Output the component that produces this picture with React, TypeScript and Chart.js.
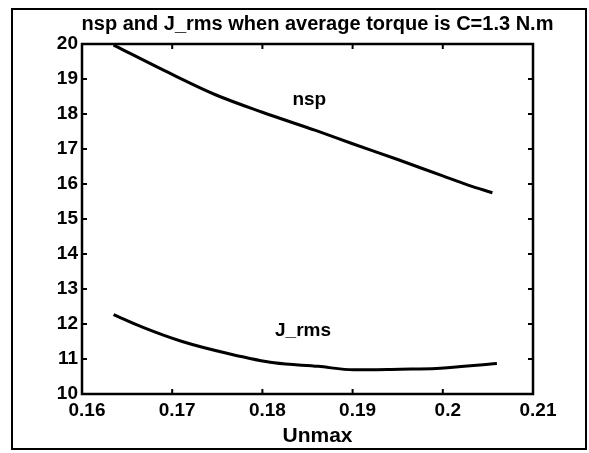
import React, { useEffect, useRef } from "react";
import { Chart, registerables } from "chart.js";

Chart.register(...registerables);

const titleText = "nsp and J_rms when average torque is C=1.3 N.m";
const xAxisTitle = "Unmax";
const xTicks = [0.16, 0.17, 0.18, 0.19, 0.2, 0.21];
const xTickLabels = ["0.16", "0.17", "0.18", "0.19", "0.2", "0.21"];
const yTicks = [10, 11, 12, 13, 14, 15, 16, 17, 18, 19, 20];

const nspX = [0.1635, 0.17, 0.1748, 0.18, 0.1859, 0.19, 0.195, 0.2, 0.2028, 0.2055];
const nspY = [19.97, 19.13, 18.55, 18.05, 17.53, 17.15, 16.7, 16.23, 15.97, 15.75];

const jrmsX = [0.1635, 0.1667, 0.1711, 0.1763, 0.1813, 0.1862, 0.1901, 0.1953, 0.1993, 0.206];
const jrmsY = [12.27, 11.91, 11.5, 11.15, 10.89, 10.79, 10.69, 10.71, 10.73, 10.87];

const seriesNames = ["nsp", "J_rms"];
const labelX = [0.1852, 0.1845];
const labelY = [18.4, 11.8];

const FONT = "'Liberation Sans', Arial, sans-serif";

const matlabPlugin = {
  id: "matlabBox",
  afterDraw(chart: any) {
    const { ctx, chartArea: a, scales } = chart;
    const xs = scales.x;
    const ys = scales.y;
    ctx.save();
    // outer figure border
    ctx.strokeStyle = "#000";
    ctx.lineWidth = 2;
    ctx.strokeRect(12, 9, 574, 440);
    // plot box
    ctx.lineWidth = 2.5;
    ctx.strokeRect(a.left, a.top, a.right - a.left, a.bottom - a.top);
    // inward ticks
    const tl = 5;
    ctx.lineWidth = 2;
    ctx.beginPath();
    xTicks.forEach((v) => {
      const px = xs.getPixelForValue(v);
      ctx.moveTo(px, a.bottom);
      ctx.lineTo(px, a.bottom - tl);
      ctx.moveTo(px, a.top);
      ctx.lineTo(px, a.top + tl);
    });
    yTicks.forEach((v) => {
      const py = ys.getPixelForValue(v);
      ctx.moveTo(a.left, py);
      ctx.lineTo(a.left + tl, py);
      ctx.moveTo(a.right, py);
      ctx.lineTo(a.right - tl, py);
    });
    ctx.stroke();
    ctx.fillStyle = "#000";
    ctx.textAlign = "center";
    ctx.textBaseline = "middle";
    // title
    ctx.font = `bold 20px ${FONT}`;
    ctx.fillText(titleText, (a.left + a.right) / 2 + 10, 24);
    // x axis title
    ctx.font = `bold 21px ${FONT}`;
    ctx.fillText(xAxisTitle, (a.left + a.right) / 2 + 10, 436);
    // in-plot labels
    ctx.font = `bold 19px ${FONT}`;
    seriesNames.forEach((name, i) => {
      ctx.fillText(name, xs.getPixelForValue(labelX[i]), ys.getPixelForValue(labelY[i]));
    });
    ctx.restore();
  },
};

export default function App() {
  const canvasRef = useRef<HTMLCanvasElement | null>(null);

  useEffect(() => {
    if (!canvasRef.current) return;
    const chart = new Chart(canvasRef.current, {
      type: "line",
      data: {
        datasets: [
          {
            label: seriesNames[0],
            data: nspX.map((x, i) => ({ x, y: nspY[i] })),
            borderColor: "#000",
            borderWidth: 3,
            pointRadius: 0,
            cubicInterpolationMode: "monotone",
            fill: false,
          },
          {
            label: seriesNames[1],
            data: jrmsX.map((x, i) => ({ x, y: jrmsY[i] })),
            borderColor: "#000",
            borderWidth: 3,
            pointRadius: 0,
            cubicInterpolationMode: "monotone",
            fill: false,
          },
        ],
      },
      options: {
        responsive: false,
        animation: false,
        layout: { padding: { left: 0, right: 56, top: 44, bottom: 0 } },
        plugins: {
          legend: { display: false },
          tooltip: { enabled: false },
          title: { display: false },
        },
        scales: {
          x: {
            type: "linear",
            min: 0.16,
            max: 0.21,
            afterBuildTicks: (scale: any) => {
              scale.ticks = xTicks.map((v) => ({ value: v }));
            },
            afterFit: (scale: any) => {
              scale.height = 59;
            },
            ticks: {
              autoSkip: false,
              maxRotation: 0,
              color: "#000",
              padding: 5,
              labelOffset: 5,
              font: { family: FONT, size: 19, weight: "bold" },
              callback: (_v: any, i: number) => xTickLabels[i],
            },
            grid: { display: false, drawTicks: false },
            border: { display: false },
          },
          y: {
            type: "linear",
            min: 10,
            max: 20,
            afterBuildTicks: (scale: any) => {
              scale.ticks = yTicks.map((v) => ({ value: v }));
            },
            afterFit: (scale: any) => {
              scale.width = 82;
            },
            ticks: {
              autoSkip: false,
              color: "#000",
              padding: 4,
              font: { family: FONT, size: 19, weight: "bold" },
              callback: (v: any) => String(v),
            },
            grid: { display: false, drawTicks: false },
            border: { display: false },
          },
        },
      },
      plugins: [matlabPlugin],
    } as any);
    return () => chart.destroy();
  }, []);

  return (
    <div style={{ position: "fixed", left: 0, top: 0, width: 589, height: 453, background: "#fff" }}>
      <canvas ref={canvasRef} width={589} height={453} style={{ display: "block" }} />
    </div>
  );
}
